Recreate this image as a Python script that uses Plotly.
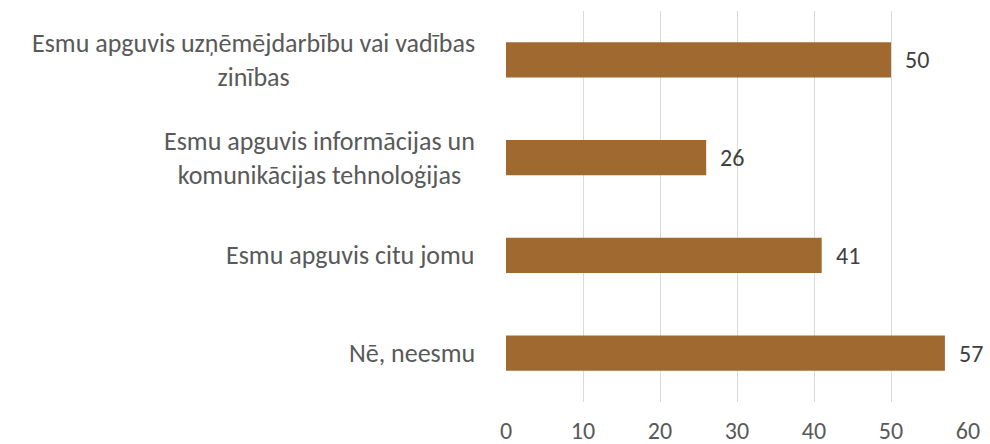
import plotly.graph_objects as go

categories = [
    "Esmu apguvis uzņēmējdarbību vai vadības<br>zinības",
    "Esmu apguvis informācijas un<br>komunikācijas tehnoloģijas",
    "Esmu apguvis citu jomu",
    "Nē, neesmu",
]
values = [50, 26, 41, 57]
x_ticks = [0, 10, 20, 30, 40, 50, 60]

FONT = "Carlito, Calibri, Lato, sans-serif"

fig = go.Figure(go.Bar(
    y=categories, x=values, orientation="h",
    marker=dict(color="#A0692F", line=dict(width=0)),
    hoverinfo="x+y",
))

for c, v in zip(categories, values):
    fig.add_annotation(
        x=0, xref="paper", y=c, yref="y", xanchor="right", xshift=-29,
        text=c, showarrow=False, align="center",
        font=dict(family=FONT, size=26, color="#595959"),
    )
    fig.add_annotation(
        x=v, xref="x", y=c, yref="y", xanchor="left", xshift=12,
        text=str(v), showarrow=False,
        font=dict(family=FONT, size=24, color="#404040"),
    )

fig.update_layout(
    width=990, height=444,
    margin=dict(l=506, r=22, t=11, b=42, autoexpand=False),
    plot_bgcolor="white", paper_bgcolor="white",
    bargap=0.64, showlegend=False,
    xaxis=dict(range=[0, 60], tickvals=x_ticks, showgrid=True, gridcolor="#D9D9D9",
               gridwidth=1, zeroline=False, showline=False, automargin=False,
               tickfont=dict(family=FONT, size=24, color="#595959"),
               ticklabelstandoff=12),
    yaxis=dict(autorange="reversed", showticklabels=False, showgrid=False,
               zeroline=False, showline=False, automargin=False),
)

fig.write_html("out.html", config={"displayModeBar": False},
               post_script="document.body.style.margin='0';document.body.style.overflow='hidden';")
